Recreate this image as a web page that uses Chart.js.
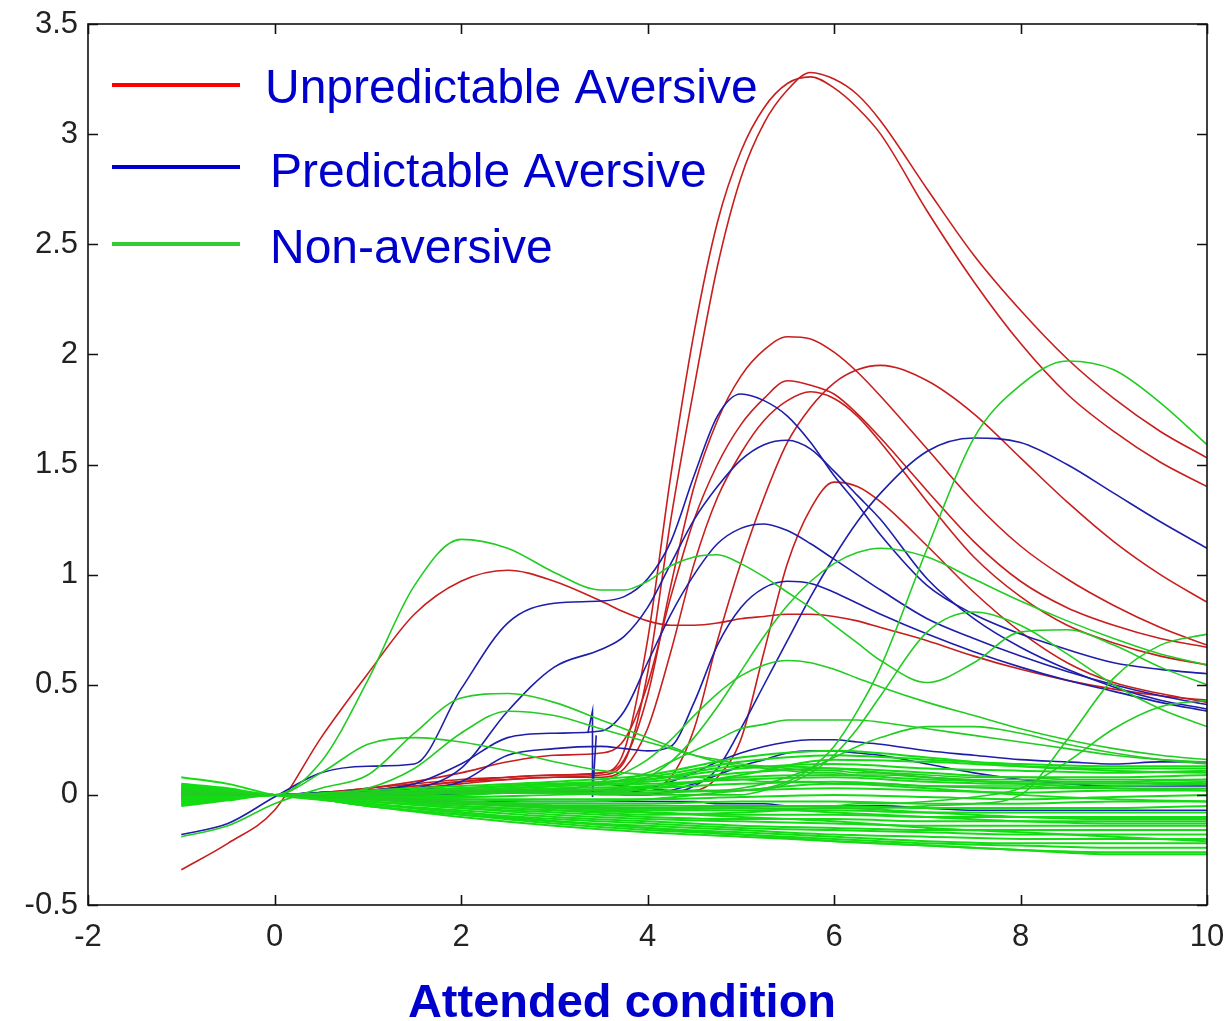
<!DOCTYPE html>
<html>
<head>
<meta charset="utf-8">
<script src="https://cdn.jsdelivr.net/npm/chart.js@4.4.1/dist/chart.umd.min.js"></script>
<style>
  html, body { margin: 0; padding: 0; background: #fff; }
  #wrap { width: 1229px; height: 1021px; }
</style>
</head>
<body>
<div id="wrap"><canvas id="respChart" width="1229" height="1021"></canvas></div>
<script>
// sample positions shared by the main curves
const XS = [-1, -0.5, 0, 0.5, 1, 1.5, 2, 2.5, 3, 3.5, 3.75, 4, 4.25, 4.5, 4.75, 5, 5.25, 5.5, 5.75, 6, 6.25, 6.5, 7, 7.5, 8, 8.5, 9, 9.5, 10]
// sample positions for the dense green bundle
const XB = [-1, -0.5, 0, 1, 2, 3, 4, 5, 6, 7, 8, 9, 10]

const X_TICKS = [-2, 0, 2, 4, 6, 8, 10]
const Y_TICKS = [-0.5, 0, 0.5, 1, 1.5, 2, 2.5, 3, 3.5]

const LEGEND_LABELS = ["Unpredictable Aversive", "Predictable Aversive", "Non-aversive"]
const X_TITLE = "Attended condition"

// Unpredictable aversive (red)
const RED_SERIES = [
  [0.01, 0.0, 0, 0, 0.02, 0.04, 0.06, 0.07, 0.08, 0.09, 0.15, 0.55, 1.25, 1.85, 2.4, 2.8, 3.05, 3.2, 3.28, 3.25, 3.18, 3.06, 2.75, 2.45, 2.2, 1.98, 1.8, 1.65, 1.53],
  [0.0, 0.0, 0, 0.01, 0.03, 0.05, 0.07, 0.08, 0.09, 0.1, 0.2, 0.7, 1.45, 2.1, 2.6, 2.92, 3.12, 3.23, 3.26, 3.21, 3.12, 3.0, 2.65, 2.33, 2.05, 1.82, 1.65, 1.51, 1.4],
  [0, 0, 0, 0, 0.02, 0.04, 0.06, 0.08, 0.09, 0.1, 0.16, 0.45, 0.95, 1.4, 1.7, 1.9, 2.02, 2.08, 2.07, 2.01, 1.92, 1.81, 1.57, 1.33, 1.13, 0.98, 0.86, 0.76, 0.68],
  [0, 0, 0, 0, 0.01, 0.01, 0.02, 0.02, 0.02, 0.02, 0.02, 0.03, 0.08, 0.3, 0.7, 1.05, 1.35, 1.6, 1.76, 1.87, 1.93, 1.95, 1.88, 1.73, 1.53, 1.33, 1.15, 1.0, 0.875],
  [0, 0, 0, 0.01, 0.03, 0.06, 0.1, 0.15, 0.18, 0.19, 0.25, 0.5, 0.9, 1.25, 1.5, 1.68, 1.8, 1.88, 1.86, 1.82, 1.73, 1.62, 1.38, 1.15, 0.97, 0.85, 0.77, 0.71, 0.67],
  [0, 0, 0, 0, 0.02, 0.03, 0.05, 0.07, 0.08, 0.08, 0.12, 0.3, 0.65, 1.05, 1.35, 1.55, 1.7, 1.79, 1.83, 1.8, 1.72, 1.6, 1.33, 1.08, 0.9, 0.77, 0.69, 0.63, 0.59],
  [0, 0, 0, 0, 0.01, 0.02, 0.03, 0.04, 0.05, 0.05, 0.04, 0.03, 0.02, 0.02, 0.08, 0.25, 0.65, 1.05, 1.3, 1.42, 1.4, 1.33, 1.13, 0.92, 0.74, 0.6, 0.51, 0.46, 0.42],
  [-0.34, -0.22, -0.07, 0.26, 0.55, 0.82, 0.97, 1.02, 0.97, 0.88, 0.83, 0.79, 0.77, 0.77, 0.78, 0.8, 0.81, 0.82, 0.82, 0.81, 0.79, 0.76, 0.7, 0.63, 0.57, 0.52, 0.48, 0.45, 0.43],
]

// Predictable aversive (blue)
const BLUE_SERIES = [
  [-0.18, -0.13, -0.01, 0.1, 0.13, 0.14, 0.48, 0.78, 0.87, 0.88, 0.9, 0.98, 1.15, 1.45, 1.72, 1.82, 1.79, 1.72, 1.6, 1.45, 1.32, 1.18, 0.95, 0.82, 0.73, 0.66, 0.6, 0.57, 0.55],
  [0, 0, 0, 0.01, 0.02, 0.03, 0.12, 0.38, 0.58, 0.66, 0.72, 0.85, 1.05, 1.25, 1.4, 1.52, 1.59, 1.61, 1.57, 1.47, 1.36, 1.25, 0.98, 0.8, 0.67, 0.57, 0.49, 0.43, 0.39],
  [0, 0, 0, 0, 0, 0.01, 0.01, 0.01, 0.02, 0.02, 0.02, 0.01, 0.01, 0.04, 0.12, 0.3, 0.5, 0.7, 0.9, 1.08, 1.24, 1.37, 1.56, 1.62, 1.6, 1.5, 1.37, 1.24, 1.12],
  [0, 0, 0, 0.01, 0.02, 0.05, 0.14, 0.26, 0.28, 0.29, 0.38, 0.6, 0.82, 1.0, 1.14, 1.21, 1.23, 1.2, 1.14, 1.07, 1.0, 0.93, 0.8, 0.71, 0.63, 0.56, 0.5, 0.45, 0.41],
  [0, 0, 0, 0.01, 0.01, 0.02, 0.06, 0.18, 0.21, 0.22, 0.21, 0.2, 0.22, 0.42, 0.68, 0.85, 0.94, 0.97, 0.96, 0.92, 0.87, 0.82, 0.73, 0.65, 0.58, 0.52, 0.47, 0.42, 0.38],
  [0, 0, 0, 0, 0, 0.01, 0.01, 0.02, 0.02, 0.02, 0.02, 0.03, 0.06, 0.1, 0.15, 0.19, 0.22, 0.24, 0.25, 0.25, 0.24, 0.23, 0.2, 0.18, 0.16, 0.15, 0.14, 0.15, 0.15],
  [0, 0, 0, 0, 0, 0, 0, 0.01, 0.01, 0.01, 0.0, 0.0, 0.02, 0.05, 0.09, 0.13, 0.16, 0.19, 0.2, 0.2, 0.19, 0.18, 0.14, 0.1, 0.07, 0.05, 0.04, 0.04, 0.04],
  [0, 0, 0, -0.01, -0.02, -0.02, -0.03, -0.03, -0.03, -0.03, -0.03, -0.03, -0.03, -0.03, -0.04, -0.04, -0.04, -0.05, -0.05, -0.05, -0.05, -0.05, -0.06, -0.07, -0.07, -0.07, -0.07, -0.07, -0.07],
]

// short glitch on one blue trace near x = 3.4
const SPIKE_X = [3.36, 3.41, 3.41, 3.45]
const SPIKE_Y = [0.28, 0.38, -0.01, 0.27]

// Non-aversive (green), the distinct traces
const GREEN_SERIES = [
  [0.02, 0.01, 0, 0.15, 0.52, 0.95, 1.16, 1.12, 1.01, 0.93, 0.93, 0.97, 1.04, 1.08, 1.09, 1.05, 0.99, 0.92, 0.85, 0.77, 0.69, 0.61, 0.51, 0.6, 0.74, 0.75, 0.68, 0.58, 0.5],
  [0.01, 0.005, 0, 0, 0.01, 0.01, 0.02, 0.02, 0.02, 0.02, 0.02, 0.02, 0.02, 0.02, 0.02, 0.02, 0.03, 0.06, 0.12, 0.22, 0.38, 0.58, 1.12, 1.62, 1.86, 1.97, 1.93, 1.78, 1.59],
  [0, 0, 0, 0, 0.01, 0.01, 0.01, 0.01, 0.02, 0.02, 0.04, 0.08, 0.15, 0.26, 0.4, 0.56, 0.72, 0.86, 0.97, 1.05, 1.1, 1.12, 1.08, 0.98, 0.88, 0.79, 0.71, 0.64, 0.59],
  [0, 0, 0, 0, 0, 0.01, 0.01, 0.01, 0.01, 0.0, 0.0, 0.0, 0.0, 0.0, 0.0, 0.0, 0.02, 0.05, 0.1, 0.18, 0.3, 0.45, 0.74, 0.83, 0.77, 0.64, 0.5, 0.39, 0.31],
  [0, 0, 0, 0, 0, 0.01, 0.01, 0.02, 0.02, 0.06, 0.1, 0.16, 0.25, 0.36, 0.46, 0.54, 0.59, 0.61, 0.6, 0.57, 0.53, 0.49, 0.42, 0.36, 0.3, 0.25, 0.21, 0.18, 0.16],
  [0.0, 0.0, 0, -0.01, -0.02, -0.03, -0.04, -0.05, -0.06, -0.06, -0.06, -0.06, -0.06, -0.06, -0.06, -0.06, -0.06, -0.06, -0.06, -0.06, -0.06, -0.06, -0.05, -0.04, 0.0, 0.25, 0.53, 0.68, 0.73],
  [0.01, 0.005, 0, 0, -0.01, -0.02, -0.03, -0.04, -0.05, -0.05, -0.05, -0.05, -0.05, -0.05, -0.05, -0.05, -0.05, -0.05, -0.05, -0.05, -0.04, -0.04, -0.03, -0.01, 0.03, 0.15, 0.3, 0.4, 0.43],
  [-0.19, -0.14, -0.04, 0.03, 0.09, 0.28, 0.44, 0.46, 0.42, 0.34, 0.3, 0.26, 0.22, 0.18, 0.15, 0.13, 0.12, 0.11, 0.1, 0.1, 0.09, 0.09, 0.08, 0.07, 0.07, 0.06, 0.06, 0.05, 0.05],
  [0.01, 0.005, 0, 0, 0.03, 0.12, 0.28, 0.38, 0.36, 0.3, 0.27, 0.24, 0.21, 0.18, 0.16, 0.14, 0.13, 0.12, 0.11, 0.11, 0.1, 0.1, 0.09, 0.08, 0.08, 0.07, 0.07, 0.07, 0.07],
  [0.0, 0.0, 0, 0.1, 0.23, 0.26, 0.24, 0.2, 0.15, 0.11, 0.1, 0.09, 0.08, 0.08, 0.07, 0.07, 0.06, 0.06, 0.06, 0.05, 0.05, 0.05, 0.04, 0.04, 0.04, 0.03, 0.03, 0.03, 0.03],
  [0, 0, 0, 0, 0, 0.01, 0.01, 0.01, 0.02, 0.05, 0.07, 0.1, 0.15, 0.2, 0.25, 0.3, 0.32, 0.34, 0.34, 0.34, 0.34, 0.33, 0.3, 0.27, 0.24, 0.21, 0.18, 0.16, 0.15],
  [0, 0, 0, 0, 0, 0, 0.01, 0.01, 0.01, 0.01, 0.01, 0.01, 0.01, 0.02, 0.02, 0.03, 0.05, 0.08, 0.12, 0.17, 0.22, 0.26, 0.31, 0.31, 0.28, 0.23, 0.19, 0.16, 0.14],
]

// Non-aversive (green), the bundle that fans out from zero
const BAND_SERIES = [
  [0.05, 0.03, 0, 0.01, 0.03, 0.05, 0.07, 0.12, 0.14, 0.12, 0.11, 0.1, 0.11],
  [0.04, 0.02, 0, 0.0, 0.02, 0.04, 0.06, 0.1, 0.12, 0.1, 0.08, 0.08, 0.09],
  [0.035, 0.02, 0, 0.0, 0.01, 0.03, 0.04, 0.08, 0.09, 0.07, 0.06, 0.06, 0.07],
  [0.03, 0.015, 0, -0.01, 0.0, 0.02, 0.03, 0.05, 0.06, 0.04, 0.03, 0.04, 0.05],
  [0.025, 0.01, 0, -0.01, -0.01, 0.0, 0.01, 0.02, 0.03, 0.02, 0.01, 0.02, 0.02],
  [0.02, 0.01, 0, -0.01, -0.02, -0.02, -0.02, -0.01, 0.0, -0.01, -0.02, -0.01, 0.0],
  [0.015, 0.005, 0, -0.02, -0.03, -0.04, -0.04, -0.03, -0.03, -0.04, -0.04, -0.03, -0.03],
  [0.01, 0.005, 0, -0.02, -0.04, -0.05, -0.06, -0.05, -0.05, -0.06, -0.06, -0.06, -0.05],
  [0.005, 0.0, 0, -0.02, -0.04, -0.06, -0.07, -0.07, -0.07, -0.08, -0.08, -0.08, -0.08],
  [0.0, 0.0, 0, -0.03, -0.05, -0.07, -0.08, -0.09, -0.09, -0.1, -0.1, -0.1, -0.1],
  [-0.005, 0.0, 0, -0.03, -0.06, -0.08, -0.1, -0.11, -0.11, -0.12, -0.12, -0.12, -0.12],
  [-0.01, -0.005, 0, -0.03, -0.06, -0.09, -0.11, -0.12, -0.13, -0.14, -0.14, -0.14, -0.14],
  [-0.015, -0.005, 0, -0.04, -0.07, -0.1, -0.12, -0.14, -0.15, -0.16, -0.16, -0.16, -0.16],
  [-0.02, -0.01, 0, -0.04, -0.08, -0.11, -0.13, -0.15, -0.16, -0.17, -0.18, -0.18, -0.18],
  [-0.025, -0.01, 0, -0.04, -0.08, -0.12, -0.14, -0.16, -0.18, -0.19, -0.2, -0.2, -0.2],
  [-0.03, -0.015, 0, -0.05, -0.09, -0.12, -0.15, -0.17, -0.19, -0.21, -0.22, -0.22, -0.22],
  [-0.035, -0.015, 0, -0.05, -0.09, -0.13, -0.16, -0.18, -0.2, -0.22, -0.23, -0.24, -0.24],
  [-0.04, -0.02, 0, -0.05, -0.1, -0.14, -0.17, -0.19, -0.21, -0.23, -0.25, -0.26, -0.26],
  [0.08, 0.05, 0, -0.04, -0.08, -0.12, -0.15, -0.18, -0.21, -0.23, -0.25, -0.27, -0.27],
  [0.045, 0.025, 0, 0.01, 0.02, 0.04, 0.05, 0.07, 0.08, 0.06, 0.05, 0.05, 0.06],
  [0.02, 0.01, 0, 0.0, 0.01, 0.02, 0.03, 0.09, 0.16, 0.15, 0.13, 0.12, 0.12],
  [0.0, 0.0, 0, 0.0, 0.02, 0.04, 0.08, 0.15, 0.18, 0.16, 0.14, 0.13, 0.13],
  [-0.045, -0.02, 0, -0.02, -0.03, -0.05, -0.07, -0.06, -0.08, -0.1, -0.12, -0.13, -0.13],
  [-0.05, -0.025, 0, -0.01, -0.03, -0.06, -0.08, -0.1, -0.12, -0.15, -0.17, -0.19, -0.21],
  [0.03, 0.02, 0, 0.02, 0.04, 0.06, 0.09, 0.17, 0.2, 0.17, 0.13, 0.11, 0.1],
  [0.015, 0.01, 0, 0.01, 0.03, 0.05, 0.07, 0.13, 0.12, 0.08, 0.05, 0.03, 0.02],
  [-0.01, 0.0, 0, -0.01, -0.02, -0.03, -0.02, 0.02, 0.05, 0.03, 0.0, -0.02, -0.03],
  [-0.02, -0.01, 0, -0.02, -0.05, -0.07, -0.09, -0.08, -0.06, -0.08, -0.1, -0.11, -0.11],
]

const RED = "#c81e1e"
const BLUE = "#1e1eaa"
const GREEN = "#22cc22"
const BAND_GREEN = "#14dc14"
const TEXT_BLUE = "#0000cc"
const FONT = "'Liberation Sans', Arial, Helvetica, sans-serif"

document.addEventListener("DOMContentLoaded", () => {
  drawChart()
})

function toPoints(xs, ys) {
  return xs.map((x, i) => ({ x: x, y: ys[i] }))
}

function trace(xs, ys, color, width, order) {
  return {
    data: toPoints(xs, ys),
    borderColor: color,
    borderWidth: width,
    pointRadius: 0,
    fill: false,
    cubicInterpolationMode: "monotone",
    order: order,
  }
}

// box, inward ticks, legend and axis title (MATLAB look)
const decorations = {
  id: "decorations",
  afterDatasetsDraw(chart) {
    const ctx = chart.ctx
    const area = chart.chartArea
    const xs = chart.scales.x
    const ys = chart.scales.y
    ctx.save()

    ctx.strokeStyle = "#111"
    ctx.lineWidth = 1.6
    ctx.strokeRect(area.left, area.top, area.right - area.left, area.bottom - area.top)

    ctx.beginPath()
    X_TICKS.forEach((v) => {
      const px = Math.round(xs.getPixelForValue(v)) + 0.5
      ctx.moveTo(px, area.bottom)
      ctx.lineTo(px, area.bottom - 10)
      ctx.moveTo(px, area.top)
      ctx.lineTo(px, area.top + 10)
    })
    Y_TICKS.forEach((v) => {
      const py = Math.round(ys.getPixelForValue(v)) + 0.5
      ctx.moveTo(area.left, py)
      ctx.lineTo(area.left + 10, py)
      ctx.moveTo(area.right, py)
      ctx.lineTo(area.right - 10, py)
    })
    ctx.stroke()

    // legend
    const rows = [
      { color: "#ff0000", lineY: 85, textX: 265, baseY: 103 },
      { color: "#0000cc", lineY: 167, textX: 270, baseY: 187 },
      { color: "#33cc33", lineY: 244, textX: 270, baseY: 263 },
    ]
    ctx.lineWidth = 4
    ctx.font = "48px " + FONT
    ctx.textAlign = "left"
    ctx.textBaseline = "alphabetic"
    rows.forEach((row, i) => {
      ctx.strokeStyle = row.color
      ctx.beginPath()
      ctx.moveTo(112, row.lineY)
      ctx.lineTo(240, row.lineY)
      ctx.stroke()
      ctx.fillStyle = TEXT_BLUE
      ctx.fillText(LEGEND_LABELS[i], row.textX, row.baseY)
    })

    // axis title
    ctx.font = "bold 47px " + FONT
    ctx.textAlign = "center"
    ctx.fillStyle = TEXT_BLUE
    ctx.fillText(X_TITLE, 622, 1017)
    ctx.restore()
  },
}

function drawChart() {
  const ctx = document.getElementById("respChart")
  if (!ctx) return

  const datasets = []
  GREEN_SERIES.forEach((ys) => datasets.push(trace(XS, ys, GREEN, 1.6, 0)))
  BAND_SERIES.forEach((ys) => datasets.push(trace(XB, ys, BAND_GREEN, 2, 0)))
  BLUE_SERIES.forEach((ys) => datasets.push(trace(XS, ys, BLUE, 1.6, 1)))
  datasets.push({
    data: toPoints(SPIKE_X, SPIKE_Y),
    borderColor: BLUE,
    borderWidth: 1.6,
    pointRadius: 0,
    tension: 0,
    order: 1,
  })
  RED_SERIES.forEach((ys) => datasets.push(trace(XS, ys, RED, 1.6, 2)))

  new Chart(ctx, {
    type: "line",
    data: { datasets: datasets },
    plugins: [decorations],
    options: {
      responsive: false,
      animation: false,
      devicePixelRatio: 1,
      layout: { padding: { top: 24, right: 22, left: 0, bottom: 0 } },
      plugins: {
        legend: { display: false },
        tooltip: { enabled: false },
      },
      scales: {
        x: {
          type: "linear",
          min: -2,
          max: 10,
          afterFit: (scale) => {
            scale.height = 116
            scale.paddingLeft = 0
            scale.paddingRight = 0
          },
          grid: { display: false, drawTicks: false },
          border: { display: false },
          afterBuildTicks: (scale) => {
            scale.ticks = X_TICKS.map((v) => ({ value: v }))
          },
          ticks: {
            padding: 14,
            color: "#222",
            font: { family: FONT, size: 31 },
            callback: (v) => String(v),
            maxRotation: 0,
          },
        },
        y: {
          type: "linear",
          min: -0.5,
          max: 3.5,
          afterFit: (scale) => {
            scale.width = 88
            scale.paddingTop = 0
            scale.paddingBottom = 0
          },
          grid: { display: false, drawTicks: false },
          border: { display: false },
          afterBuildTicks: (scale) => {
            scale.ticks = Y_TICKS.map((v) => ({ value: v }))
          },
          ticks: {
            padding: 10,
            color: "#222",
            font: { family: FONT, size: 31 },
            callback: (v) => String(v),
          },
        },
      },
    },
  })
}
</script>
</body>
</html>
